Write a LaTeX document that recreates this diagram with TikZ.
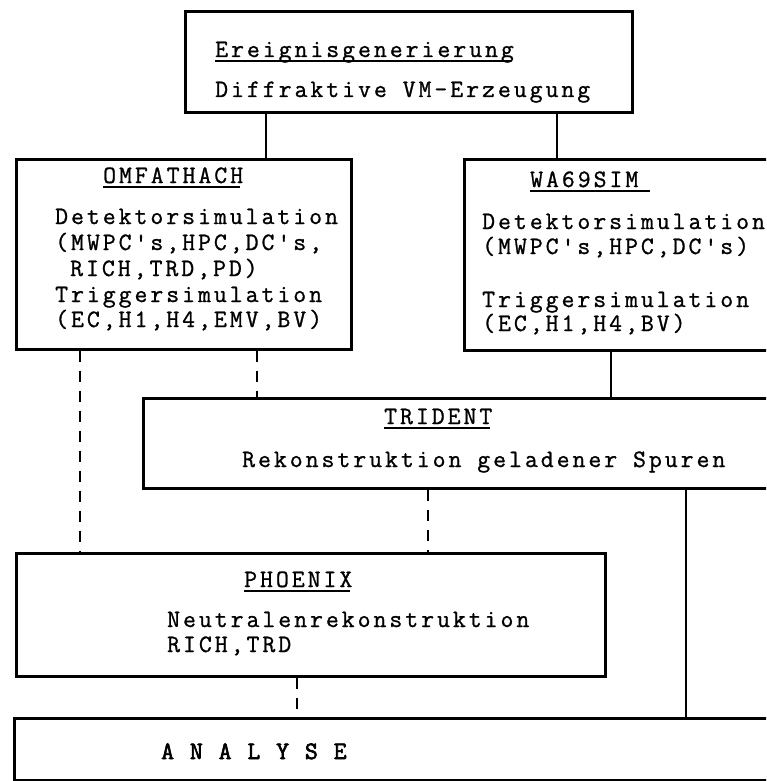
\documentclass[tikz,border=0pt]{standalone}
\usepackage{fontspec}
\setmonofont{Latin Modern Mono}[LetterSpace=12,FakeBold=1]
\newfontfamily\anafont{Latin Modern Mono}[LetterSpace=12,FakeBold=2.5]
\begin{document}
\begin{tikzpicture}[x=1pt,y=-1pt,
  box/.style={draw, line width=2.6pt, inner sep=0pt, anchor=north west},
  txt/.style={font=\ttfamily\fontsize{25}{30}\selectfont, inner sep=0pt, anchor=base west},
  link/.style={line width=2.2pt},
  dlink/.style={line width=2.2pt, dash pattern=on 11pt off 9pt},
  uline/.style={line width=1.8pt}]
\useasboundingbox (0,0) rectangle (766,781);
\fill[white] (0,0) rectangle (766,781);
\clip (0,0) rectangle (766,781);
% boxes
\node[box, minimum width=447pt, minimum height=101pt] (gen) at (184,10) {};
\node[box, minimum width=335pt, minimum height=190pt] (omf) at (15,158) {};
\node[box, minimum width=340pt, minimum height=191pt] (wa) at (463,158) {};
\node[box, minimum width=660pt, minimum height=90pt] (tri) at (142,397) {};
\node[box, minimum width=589pt, minimum height=123pt] (phx) at (15,552) {};
\node[box, minimum width=800pt, minimum height=62pt] (ana) at (13,717) {};
% texts
\node[txt] (gent) at (215,57) {Ereignisgenerierung};
\node[txt] (gen1) at (215,97) {Diffraktive VM-Erzeugung};
\node[txt] (omft) at (103,183) {OMFATHACH};
\node[txt] (omf1) at (55,224) {Detektorsimulation};
\node[txt] (omf2) at (55,250) {(MWPC's,HPC,DC's,};
\node[txt] (omf3) at (70,276) {RICH,TRD,PD)};
\node[txt] (omf4) at (55,302) {Triggersimulation};
\node[txt] (omf5) at (55,327) {(EC,H1,H4,EMV,BV)};
\node[txt] (wat) at (530,187) {WA69SIM};
\node[txt] (wa1) at (482,229) {Detektorsimulation};
\node[txt] (wa2) at (482,254) {(MWPC's,HPC,DC's)};
\node[txt] (wa3) at (482,307) {Triggersimulation};
\node[txt] (wa4) at (482,331) {(EC,H1,H4,BV)};
\node[txt] (trit) at (384,424) {TRIDENT};
\node[txt] (tri1) at (242,467) {Rekonstruktion geladener Spuren};
\node[txt] (phxt) at (244,587) {PHOENIX};
\node[txt] (phx1) at (167,627) {Neutralenrekonstruktion};
\node[txt] (phx2) at (167,652) {RICH,TRD};
\node[txt, font=\anafont\fontsize{25}{30}\selectfont] (anat) at (161,759) {A N A L Y S E};
% underlines
\foreach \t in {gent,omft,trit,phxt}
  \draw[uline] ([yshift=-4pt]\t.base west) -- ([yshift=-4pt,xshift=-3pt]\t.base east);
\draw[uline] ([yshift=-4pt]wat.base west) -- ([yshift=-4pt,xshift=12pt]wat.base east);
% connector x positions
\coordinate (x1) at (266,0);
\coordinate (x2) at (557,0);
\coordinate (x3) at (257,0);
\coordinate (x4) at (80,0);
\coordinate (x5) at (611,0);
\coordinate (x6) at (428,0);
\coordinate (x7) at (686,0);
\coordinate (x8) at (297,0);
\draw[link] (gen.south -| x1) -- (omf.north -| x1);
\draw[link] (gen.south -| x2) -- (wa.north -| x2);
\draw[dlink] (omf.south -| x3) -- (tri.north -| x3);
\draw[dlink] (omf.south -| x4) -- (phx.north -| x4);
\draw[link] (wa.south -| x5) -- (tri.north -| x5);
\draw[dlink] (tri.south -| x6) -- (phx.north -| x6);
\draw[link] (tri.south -| x7) -- (ana.north -| x7);
\draw[dlink] (phx.south -| x8) -- (ana.north -| x8);
\end{tikzpicture}
\end{document}
